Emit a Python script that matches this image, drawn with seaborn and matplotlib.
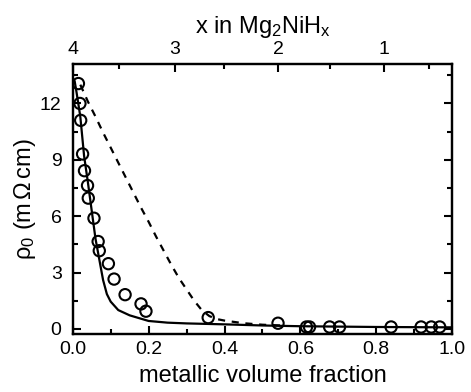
import numpy as np
import matplotlib
matplotlib.use("Agg")
import matplotlib.pyplot as plt
import seaborn as sns
from matplotlib.ticker import MultipleLocator, FixedLocator

# ---- data ----
circ_x = [0.015, 0.019, 0.021, 0.026, 0.031, 0.039, 0.041, 0.056, 0.067, 0.070,
          0.094, 0.109, 0.138, 0.180, 0.193, 0.357, 0.541, 0.616, 0.624, 0.677,
          0.703, 0.839, 0.918, 0.945, 0.967]
circ_y = [13.06, 12.0, 11.1, 9.31, 8.42, 7.63, 6.96, 5.89, 4.65, 4.16,
          3.47, 2.65, 1.82, 1.33, 0.94, 0.60, 0.30, 0.10, 0.10, 0.10,
          0.10, 0.10, 0.10, 0.10, 0.10]

solid_x = [0.005, 0.01, 0.02, 0.03, 0.04, 0.05, 0.06, 0.07, 0.08, 0.09, 0.10,
           0.12, 0.15, 0.20, 0.25, 0.30, 0.40, 0.50, 0.60, 0.80, 1.0]
solid_y = [13.2, 12.6, 11.3, 9.2, 7.8, 6.3, 4.8, 3.7, 2.6, 1.85, 1.45,
           1.0, 0.72, 0.42, 0.33, 0.29, 0.24, 0.18, 0.14, 0.10, 0.08]

dash_x = [0.02, 0.03, 0.04, 0.06, 0.08, 0.10, 0.12, 0.14, 0.16, 0.18, 0.20,
          0.22, 0.24, 0.26, 0.28, 0.30, 0.32, 0.34, 0.36, 0.38, 0.40, 0.45,
          0.50, 0.55]
dash_y = [13.0, 12.55, 12.1, 11.3, 10.45, 9.65, 8.85, 8.05, 7.25, 6.45, 5.7,
          4.9, 4.15, 3.4, 2.7, 2.1, 1.5, 1.0, 0.68, 0.52, 0.44, 0.30,
          0.22, 0.18]

x_ticks = [0.0, 0.2, 0.4, 0.6, 0.8, 1.0]
x_ticklabels = ['0.0', '0.2', '0.4', '0.6', '0.8', '1.0']
y_ticks = [0, 3, 6, 9, 12]
y_ticklabels = ['0', '3', '6', '9', '12']
top_labels = ['4', '3', '2', '1']
top_major_pos = [0.0, 0.269, 0.541, 0.820]
top_minor_pos = [0.123, 0.399, 0.677, 0.940]

# ---- style ----
sns.set_style("ticks")
plt.rcParams['font.family'] = ['Liberation Sans', 'DejaVu Sans']
plt.rcParams['mathtext.fontset'] = 'custom'
plt.rcParams['mathtext.rm'] = 'Liberation Sans'
plt.rcParams['mathtext.it'] = 'Liberation Sans:italic'
plt.rcParams['mathtext.default'] = 'regular'
for k in ['text.color', 'axes.labelcolor', 'xtick.color', 'ytick.color',
          'axes.edgecolor']:
    plt.rcParams[k] = 'black'
plt.rcParams['xtick.direction'] = 'in'
plt.rcParams['ytick.direction'] = 'in'

fig = plt.figure(figsize=(4.71, 3.92), dpi=100)
ax = fig.add_axes([0.1544, 0.1467, 0.8057, 0.690])

sns.lineplot(x=solid_x, y=solid_y, ax=ax, color='black', lw=1.6, sort=False)
sns.lineplot(x=dash_x, y=dash_y, ax=ax, color='black', lw=1.6, sort=False,
             linestyle=(0, (3.2, 3.0)))
sns.scatterplot(x=circ_x, y=circ_y, ax=ax, marker='o', s=66,
                facecolor='none', edgecolor='black', linewidth=1.5, zorder=3)

ax.set_xlim(0, 1.0)
ax.set_ylim(-0.3, 14.1)
ax.set_xticks(x_ticks)
ax.set_xticklabels(x_ticklabels)
ax.set_yticks(y_ticks)
ax.set_yticklabels(y_ticklabels)
ax.xaxis.set_minor_locator(MultipleLocator(0.1))
ax.yaxis.set_minor_locator(MultipleLocator(1.5))

for sp in ax.spines.values():
    sp.set_linewidth(1.6)

ax.set_xlabel('metallic volume fraction', fontsize=17, labelpad=5)
ax.set_ylabel(r'$\rho_0$ (m$\,\Omega\,$cm)', fontsize=17, labelpad=1)

axt = ax.twiny()
axt.set_xlim(ax.get_xlim())
axt.yaxis.set_visible(False)
axt.xaxis.set_major_locator(FixedLocator(top_major_pos))
axt.xaxis.set_minor_locator(FixedLocator(top_minor_pos))
axt.set_xticklabels(top_labels)
axt.set_xlabel(r'x in Mg$_2$NiH$_x$', fontsize=17, labelpad=6)
for sp in axt.spines.values():
    sp.set_linewidth(1.6)

ax.tick_params(axis='x', which='both', direction='in', top=False, bottom=True,
               labelsize=14, pad=5, width=1.5, colors='black')
ax.tick_params(axis='y', which='both', direction='in', left=True, right=True,
               labelsize=14, pad=8, width=1.5, colors='black')
ax.tick_params(which='major', length=6)
ax.tick_params(which='minor', length=3.5)
axt.tick_params(axis='x', which='both', direction='in', labelsize=14, pad=4,
                width=1.5, colors='black', bottom=False, top=True)
axt.tick_params(which='major', length=6)
axt.tick_params(which='minor', length=3.5)

fig.savefig('out.png', dpi=100)
